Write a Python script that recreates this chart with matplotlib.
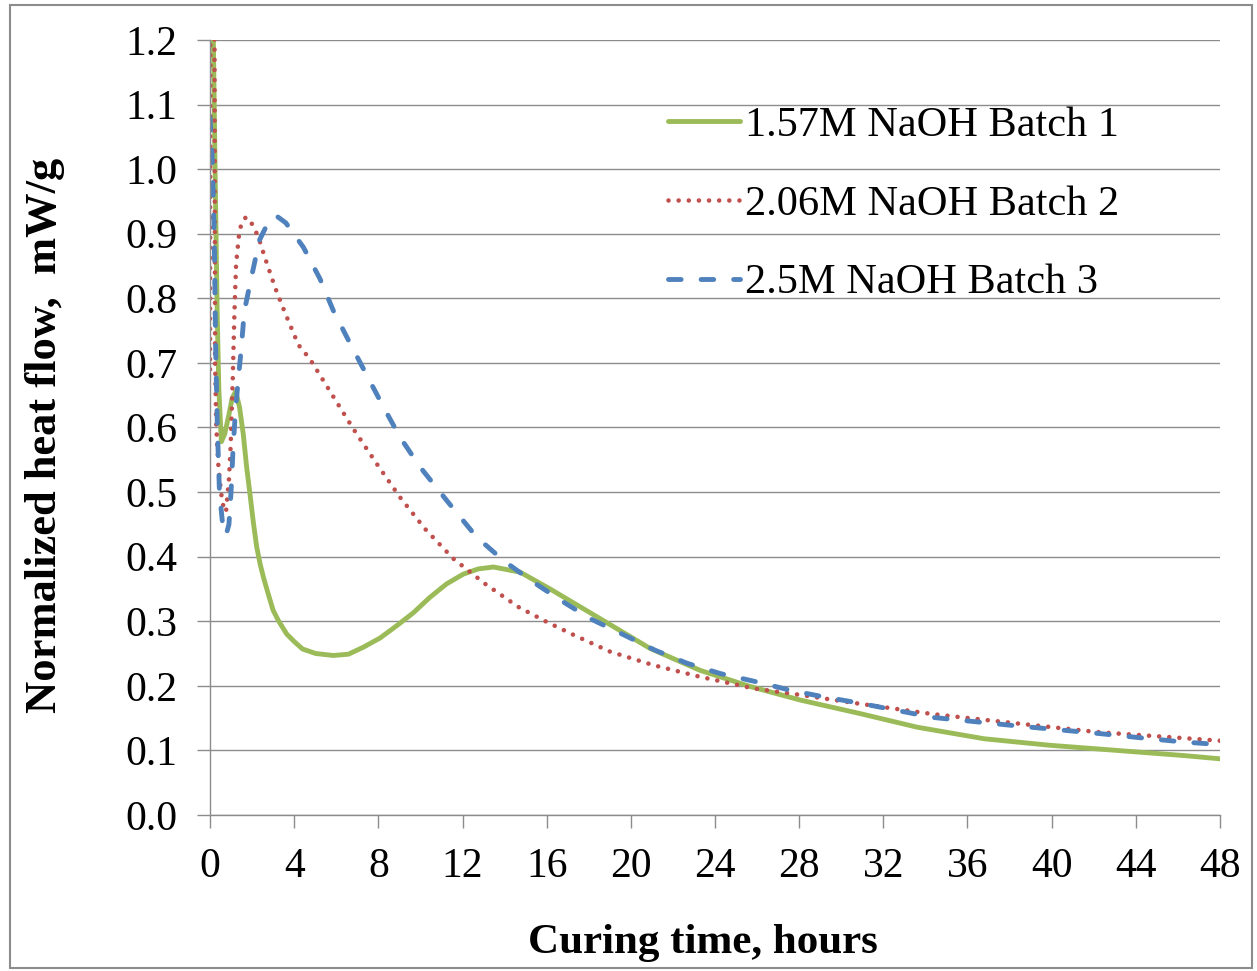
import matplotlib
matplotlib.use("Agg")
import matplotlib.pyplot as plt
from matplotlib.patches import Rectangle

# Curing time (hours) and normalized heat flow (mW/g) for each batch
batch1_t = [0, 0.1, 0.16, 0.25, 0.34, 0.42, 0.54, 0.7, 0.9, 1.05, 1.22, 1.4, 1.58,
            1.74, 1.9, 2.06, 2.22, 2.38, 2.54, 2.77, 3.0, 3.25, 3.65, 4.02, 4.4,
            5.03, 5.86, 6.58, 7.3, 8.08, 8.87, 9.66, 10.45, 11.25, 12.04, 12.75,
            13.47, 14.74, 16.16, 18.54, 20.91, 23.29, 25.67, 28.05, 30.9, 33.6,
            36.8, 39.9, 43.1, 46.3, 48.0]
batch1_q = [1.45, 1.3, 1.2, 0.98, 0.78, 0.66, 0.578, 0.59, 0.62, 0.645, 0.656, 0.632,
            0.59, 0.539, 0.497, 0.453, 0.415, 0.389, 0.368, 0.342, 0.317, 0.301,
            0.28, 0.268, 0.257, 0.25, 0.247, 0.249, 0.26, 0.274, 0.293, 0.313,
            0.337, 0.358, 0.373, 0.381, 0.384, 0.376, 0.35, 0.304, 0.258, 0.224,
            0.199, 0.178, 0.157, 0.136, 0.118, 0.108, 0.1, 0.092, 0.087]

batch2_t = [0, 0.03, 0.2, 0.24, 0.3, 0.4, 0.52, 0.65, 0.76, 0.9, 0.98, 1.08, 1.16,
            1.24, 1.4, 1.55, 1.72, 2.0, 2.3, 2.6, 3.09, 3.56, 4.2, 4.75, 5.78, 6.81,
            7.92, 9.03, 10.22, 11.56, 13.07, 14.66, 16.0, 17.27, 19.01, 21.07,
            23.29, 25.83, 28.05, 30.5, 34.4, 38.3, 42.3, 46.3, 48.0]
batch2_q = [0.69, 1.5, 1.5, 0.7, 0.6, 0.54, 0.5, 0.475, 0.469, 0.52, 0.57, 0.673,
            0.776, 0.853, 0.905, 0.92, 0.926, 0.915, 0.895, 0.864, 0.817, 0.778,
            0.728, 0.706, 0.652, 0.598, 0.544, 0.492, 0.443, 0.397, 0.358, 0.322,
            0.299, 0.279, 0.253, 0.232, 0.214, 0.196, 0.186, 0.174, 0.156, 0.142,
            0.128, 0.119, 0.115]

batch3_t = [0, 0.1, 0.2, 0.27, 0.35, 0.45, 0.6, 0.76, 0.9, 1.0, 1.1, 1.2, 1.32, 1.48,
            1.63, 1.95, 2.35, 2.8, 3.14, 3.6, 4.44, 5.23, 5.86, 6.66, 7.45, 8.24,
            9.03, 9.98, 11.25, 12.68, 13.95, 15.21, 16.64, 18.07, 19.66, 21.16,
            22.67, 24.25, 26.0, 27.6, 29.15, 30.74, 34.38, 38.34, 42.3, 44.7,
            46.27, 48.0]
batch3_q = [1.08, 1.02, 0.9, 0.72, 0.6, 0.5, 0.45, 0.433, 0.45, 0.5, 0.57, 0.62,
            0.667, 0.72, 0.78, 0.83, 0.89, 0.92, 0.928, 0.917, 0.879, 0.83, 0.781,
            0.73, 0.681, 0.632, 0.585, 0.539, 0.487, 0.43, 0.394, 0.364, 0.333,
            0.304, 0.279, 0.255, 0.235, 0.219, 0.206, 0.193, 0.183, 0.174, 0.151,
            0.138, 0.126, 0.118, 0.113, 0.109]

labels = ["1.57M NaOH Batch 1", "2.06M NaOH Batch 2", "2.5M NaOH Batch 3"]
x_ticks = list(range(0, 49, 4))
y_ticks = [i / 10 for i in range(0, 13)]

plt.rcParams["font.family"] = ["Liberation Serif", "DejaVu Serif"]

W, H = 1257, 971
fig = plt.figure(figsize=(W / 100, H / 100), dpi=100)
ax = fig.add_axes([210 / W, 1 - 815 / H, 1010 / W, 775 / H])

grid_color = "#8c8c8c"
ax.set_axisbelow(True)
ax.yaxis.grid(True, color=grid_color, linewidth=1.0)

lw = 3.5
ax.plot(batch1_t, batch1_q, color="#9BBB59", linewidth=lw,
        solid_capstyle="round", solid_joinstyle="round", label=labels[0])
ax.plot(batch2_t, batch2_q, color="#C0504D", linewidth=3.3,
        linestyle=(0, (0.01, 2.2)), dash_capstyle="round", label=labels[1])
ax.plot(batch3_t, batch3_q, color="#4F81BD", linewidth=lw,
        linestyle=(0, (2.6, 4.1)), dash_capstyle="round", label=labels[2])

ax.set_xlim(0, 48)
ax.set_ylim(0, 1.2)
ax.set_xticks(x_ticks)
ax.set_yticks(y_ticks)
ax.set_yticklabels([f"{v:.1f}" for v in y_ticks])
ax.tick_params(axis="both", direction="out", length=9.5, width=1.0, color=grid_color,
               labelsize=30, pad=14)

for side in ("top", "right"):
    ax.spines[side].set_visible(False)
for side in ("left", "bottom"):
    ax.spines[side].set_color(grid_color)
    ax.spines[side].set_linewidth(1.0)

ax.set_xlabel("Curing time, hours", fontsize=31, fontweight="bold", va="center")
ax.xaxis.set_label_coords((703 - 210) / 1010, (815 - 943) / 775)
ax.set_ylabel("Normalized heat flow,  mW/g", fontsize=32, fontweight="bold",
              va="center")
ax.yaxis.set_label_coords((45 - 210) / 1010, (815 - 435) / 775)

leg = ax.legend(loc="upper left", bbox_to_anchor=(668 / W, 1 - 106 / H),
                bbox_transform=fig.transFigure, frameon=False, fontsize=30.5,
                handlelength=1.7, handletextpad=0.12, labelspacing=0.95,
                borderpad=0, borderaxespad=0)

# outer chart border
fig.patches.append(Rectangle((10 / W, 1 - 968 / H), 1242 / W, 963 / H,
                             transform=fig.transFigure, fill=False,
                             edgecolor="#8c8c8c", linewidth=1.5))

fig.savefig("out.png", dpi=100)
